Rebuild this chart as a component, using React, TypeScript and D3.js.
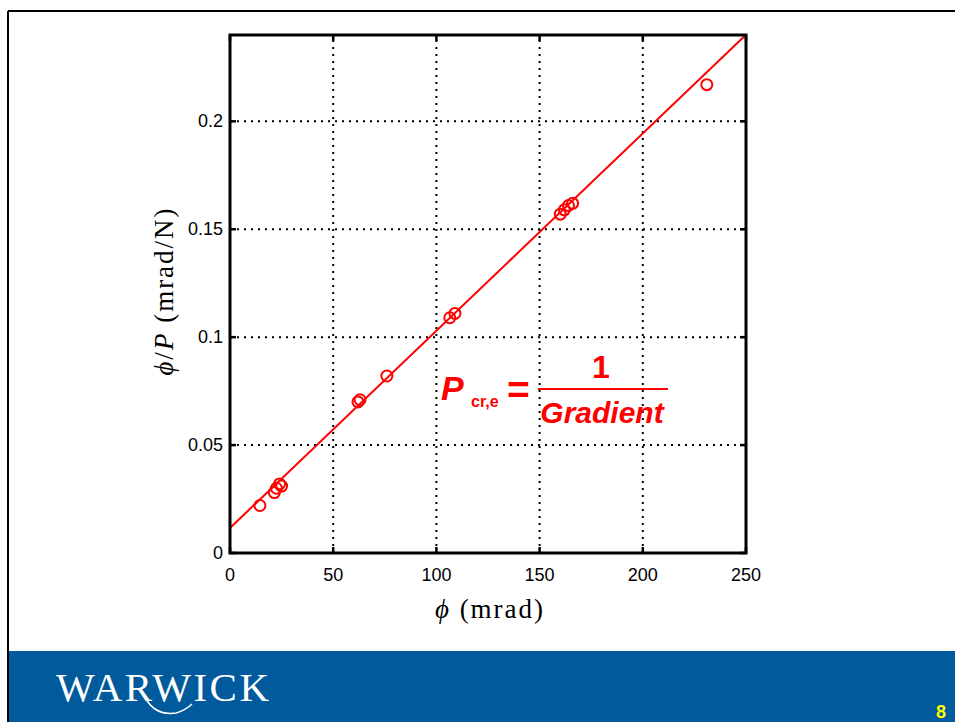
import React from 'react';
import * as d3 from 'd3';

// rotation phi (mrad) and phi/P (mrad/N)
const phiVals = [14.5, 21.5, 22.5, 24, 25, 62, 63, 76, 106.5, 109, 160, 162, 164, 166, 231];
const ratioVals = [0.022, 0.028, 0.030, 0.032, 0.031, 0.070, 0.071, 0.082, 0.109, 0.111, 0.157, 0.159, 0.161, 0.162, 0.217];

// linear fit (Southwell style)
const fitIntercept = 0.0116;
const fitSlope = 0.000914;

const xTicks = [0, 50, 100, 150, 200, 250];
const yTicks = [0, 0.05, 0.1, 0.15, 0.2];
const yTickLabels = ['0', '0.05', '0.1', '0.15', '0.2'];

const W = 955;
const H = 722;

export default function App() {
  const x = d3.scaleLinear().domain([0, 250]).range([230, 746]);
  const y = d3.scaleLinear().domain([0, 0.24]).range([553, 35]);
  const [x0, x1] = x.range();
  const [y0, y1] = y.range();

  const fitLine = d3.line<number>()
    .x(d => x(d))
    .y(d => y(fitIntercept + fitSlope * d));

  const tickLen = 6;
  const red = '#ff0000';

  return (
    <svg width={W} height={H} style={{ position: 'absolute', left: 0, top: 0, background: '#fff' }}>
      {/* slide frame */}
      <line x1={8} x2={W} y1={11} y2={11} stroke="#000" strokeWidth={2} />
      <line x1={8} x2={8} y1={11} y2={H} stroke="#000" strokeWidth={2} />

      {/* footer */}
      <rect x={9} y={651} width={W - 9} height={H - 651} fill="#005a9c" />
      <text x={56} y={701} fill="#fff" fontFamily="Liberation Serif" fontSize={41}
        textLength={213} lengthAdjust="spacing">WARWICK</text>
      <path d="M146,699 Q156,716 176,713 Q186,710 192,704" fill="none" stroke="#fff" strokeWidth={1.5} />
      <text x={941} y={718} fill="#ffff00" fontFamily="Liberation Sans" fontWeight="bold"
        fontSize={18} textAnchor="middle">8</text>

      {/* grid */}
      <g stroke="#000" strokeWidth={2} strokeDasharray="2,5">
        {xTicks.slice(1, -1).map(t => (
          <line key={'gx' + t} x1={x(t)} x2={x(t)} y1={y0} y2={y1} />
        ))}
        {yTicks.slice(1).map(t => (
          <line key={'gy' + t} x1={x0} x2={x1} y1={y(t)} y2={y(t)} />
        ))}
      </g>

      {/* ticks on all four sides, inward */}
      <g stroke="#000" strokeWidth={2.5}>
        {xTicks.map(t => (
          <g key={'tx' + t}>
            <line x1={x(t)} x2={x(t)} y1={y0} y2={y0 - tickLen} />
            <line x1={x(t)} x2={x(t)} y1={y1} y2={y1 + tickLen} />
          </g>
        ))}
        {yTicks.map(t => (
          <g key={'ty' + t}>
            <line x1={x0} x2={x0 + tickLen} y1={y(t)} y2={y(t)} />
            <line x1={x1} x2={x1 - tickLen} y1={y(t)} y2={y(t)} />
          </g>
        ))}
      </g>

      {/* fit line */}
      <path d={fitLine([0, 250]) || ''} fill="none" stroke={red} strokeWidth={2} />

      {/* data */}
      <g fill="none" stroke={red} strokeWidth={2}>
        {phiVals.map((p, i) => (
          <circle key={i} cx={x(p)} cy={y(ratioVals[i])} r={5.5} />
        ))}
      </g>

      {/* axes box */}
      <rect x={x0} y={y1} width={x1 - x0} height={y0 - y1} fill="none" stroke="#000" strokeWidth={3} />

      {/* tick labels */}
      <g fontFamily="Liberation Sans" fontSize={18} fill="#000">
        {xTicks.map(t => (
          <text key={'lx' + t} x={x(t)} y={581} textAnchor="middle">{t}</text>
        ))}
        {yTicks.map((t, i) => (
          <text key={'ly' + t} x={223} y={y(t) + 6} textAnchor="end">{yTickLabels[i]}</text>
        ))}
      </g>

      {/* axis labels */}
      <text x={490} y={618} textAnchor="middle" fontFamily="Liberation Serif" fontSize={27} letterSpacing={2}>
        <tspan fontStyle="italic">ϕ</tspan> (mrad)
      </text>
      <text transform="translate(173,291) rotate(-90)" textAnchor="middle" fontFamily="Liberation Serif"
        fontSize={27} letterSpacing={2}>
        <tspan fontStyle="italic">ϕ</tspan>/<tspan fontStyle="italic">P</tspan> (mrad/N)
      </text>

      {/* formula */}
      <g fill={red} fontFamily="Liberation Sans" fontWeight="bold">
        <text x={441} y={400} fontSize={34} fontStyle="italic">P</text>
        <text x={471} y={407} fontSize={16}>cr,e</text>
        <text x={507} y={403} fontSize={39}>=</text>
        <text x={601} y={378} fontSize={32} textAnchor="middle">1</text>
        <line x1={538} x2={668} y1={389} y2={389} stroke={red} strokeWidth={2} />
        <text x={602} y={423} fontSize={30} fontStyle="italic" textAnchor="middle">Gradient</text>
      </g>
    </svg>
  );
}
